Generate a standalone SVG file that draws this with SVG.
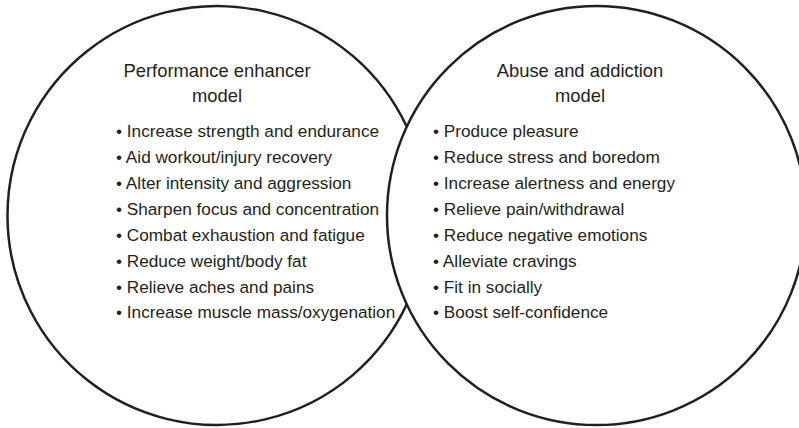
<svg xmlns="http://www.w3.org/2000/svg" width="799" height="428" viewBox="0 0 799 428">
<style>
.ring{fill:none;stroke:#231f20;stroke-width:2.5}
text{font-family:"Liberation Sans",Arial,sans-serif;font-size:17.2px;fill:#231f20}
.h{text-anchor:middle;font-size:18.4px}
</style>
<rect width="799" height="428" fill="#fff"/>
<g id="performance-enhancer-model">
<path class="ring" d="M406.75 126.7 A209.5 209.5 0 1 0 406.75 304.3"/>
<text class="h" x="217" y="77">Performance enhancer</text>
<text class="h" x="217" y="102">model</text>
<text x="116" y="137">• Increase strength and endurance</text>
<text x="116" y="163">• Aid workout/injury recovery</text>
<text x="116" y="189">• Alter intensity and aggression</text>
<text x="116" y="215">• Sharpen focus and concentration</text>
<text x="116" y="241">• Combat exhaustion and fatigue</text>
<text x="116" y="267">• Reduce weight/body fat</text>
<text x="116" y="293">• Relieve aches and pains</text>
<text x="116" y="318">• Increase muscle mass/oxygenation</text>
</g>
<g id="abuse-addiction-model">
<circle class="ring" cx="596.5" cy="215.5" r="209.5"/>
<text class="h" x="580" y="77">Abuse and addiction</text>
<text class="h" x="580" y="102">model</text>
<text x="433" y="137">• Produce pleasure</text>
<text x="433" y="163">• Reduce stress and boredom</text>
<text x="433" y="189">• Increase alertness and energy</text>
<text x="433" y="215">• Relieve pain/withdrawal</text>
<text x="433" y="241">• Reduce negative emotions</text>
<text x="433" y="267">• Alleviate cravings</text>
<text x="433" y="293">• Fit in socially</text>
<text x="433" y="318">• Boost self-confidence</text>
</g>
</svg>
